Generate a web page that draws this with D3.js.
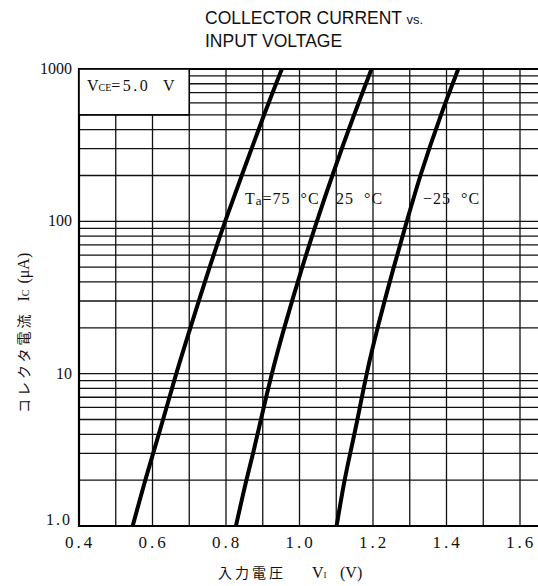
<!DOCTYPE html>
<html>
<head>
<meta charset="utf-8">
<script src="https://cdn.jsdelivr.net/npm/d3@7"></script>
<style>
  body { margin: 0; background: #fff; }
  svg { display: block; }
  .serif { font-family: "Liberation Serif", "DejaVu Serif", serif; }
</style>
</head>
<body>
<div id="chart"></div>
<script>
// collector current points (µA) and input voltage read for each curve (V)
const currents = [1, 2, 3, 5, 10, 20, 50, 100, 200, 500, 1000];
const volts75 = [0.546, 0.580, 0.602, 0.629, 0.664, 0.703, 0.755, 0.797, 0.843, 0.903, 0.952];
const volts25 = [0.827, 0.855, 0.874, 0.895, 0.924, 0.958, 1.007, 1.047, 1.089, 1.148, 1.196];
const voltsM25 = [1.101, 1.122, 1.138, 1.158, 1.182, 1.212, 1.256, 1.292, 1.328, 1.384, 1.432];

const xTicks = [0.4, 0.6, 0.8, 1.0, 1.2, 1.4, 1.6];
const xTickLabels = ["0.4", "0.6", "0.8", "1.0", "1.2", "1.4", "1.6"];
const yTicks = [1, 10, 100, 1000];
const yTickLabels = ["1.0", "10", "100", "1000"];
const curveLabels = ["Ta=75 °C", "25  °C", "−25  °C"];

const W = 538, H = 586;
const plotLeft = 79, plotTop = 69, plotBottom = 526;
const perTenth = 36.75;

const svg = d3.select("#chart").append("svg")
  .attr("width", W)
  .attr("height", H);

const x = d3.scaleLinear().domain([0.4, 1.7]).range([plotLeft, plotLeft + 13 * perTenth]);
const y = d3.scaleLog().domain([1, 1000]).range([plotBottom, plotTop]);

// title
const title = svg.append("g")
  .style("font-family", "'Liberation Sans Narrow', 'Liberation Sans', Arial, sans-serif")
  .style("font-size", "17.5px")
  .attr("fill", "#111");
const t1 = title.append("text").attr("x", 205).attr("y", 24);
t1.append("tspan").text("COLLECTOR CURRENT ");
t1.append("tspan").style("font-size", "13px").text("vs.");
title.append("text").attr("x", 205).attr("y", 47).text("INPUT VOLTAGE");

// grid
const grid = svg.append("g").attr("stroke", "#111").attr("stroke-width", 1.3);

const vLines = d3.range(5, 18).map(d => d / 10);
grid.selectAll(".vl").data(vLines).enter().append("line")
  .attr("x1", d => x(d)).attr("x2", d => x(d))
  .attr("y1", plotTop).attr("y2", plotBottom);

const hLines = [];
[1, 10, 100].forEach(dec => d3.range(1, 10).forEach(m => hLines.push(dec * m)));
hLines.push(1000);
grid.selectAll(".hl").data(hLines).enter().append("line")
  .attr("x1", plotLeft).attr("x2", W)
  .attr("y1", d => y(d)).attr("y2", d => y(d));

// frame
svg.append("path")
  .attr("d", `M${W},${plotTop}H${plotLeft}V${plotBottom}H${W}`)
  .attr("fill", "none").attr("stroke", "#000").attr("stroke-width", 2.2);

// condition box
svg.append("rect")
  .attr("x", plotLeft).attr("y", plotTop)
  .attr("width", x(0.7) - plotLeft).attr("height", y(500) - plotTop)
  .attr("fill", "#fff").attr("stroke", "#000").attr("stroke-width", 1.6);

const box = svg.append("text").attr("class", "serif")
  .attr("x", 87).attr("y", 91)
  .style("white-space", "pre")
  .style("font-size", "16px").attr("fill", "#111");
box.append("tspan").text("V");
box.append("tspan").style("font-size", "10px").text("CE");
box.append("tspan").style("letter-spacing", "2.5px").text("=5.0  V");

// curves
const line = d3.line()
  .x(d => x(d[0]))
  .y(d => y(d[1]))
  .curve(d3.curveBasis);

[volts75, volts25, voltsM25].forEach(vs => {
  svg.append("path")
    .datum(vs.map((v, i) => [v, currents[i]]))
    .attr("d", line)
    .attr("fill", "none")
    .attr("stroke", "#000")
    .attr("stroke-width", 4);
});

// curve labels
const labelPos = [[245, 204], [336, 204], [423, 204]];
curveLabels.forEach((t, i) => {
  const lt = svg.append("text").attr("class", "serif")
    .attr("x", labelPos[i][0]).attr("y", labelPos[i][1])
    .style("white-space", "pre")
    .style("letter-spacing", "1px")
    .style("font-size", "16px").attr("fill", "#111");
  if (i === 0) {
    lt.append("tspan").text("T");
    lt.append("tspan").style("font-size", "13px").attr("dy", 1).text("a");
    lt.append("tspan").attr("dy", -1).text("=75  °C");
  } else {
    lt.text(t);
  }
});

// axes labels
const xAxis = svg.append("g").attr("class", "serif")
  .style("font-size", "17px").attr("fill", "#111");
xAxis.selectAll("text").data(xTicks).enter().append("text")
  .attr("x", d => x(d) + 1).attr("y", 548)
  .attr("text-anchor", "middle")
  .style("letter-spacing", "3px")
  .text((d, i) => xTickLabels[i]);

const yAxis = svg.append("g").attr("class", "serif")
  .style("font-size", "16px").attr("fill", "#111");
yAxis.selectAll("text").data(yTicks).enter().append("text")
  .attr("x", 72)
  .attr("y", d => d === 1 ? y(d) - 1 : y(d) + 5)
  .attr("text-anchor", "end")
  .style("letter-spacing", d => d === 1 ? "2px" : "0px")
  .text((d, i) => yTickLabels[i]);

// x title
const xt = svg.append("text")
  .attr("x", 218).attr("y", 578)
  .style("font-family", "'Noto Sans CJK JP', sans-serif")
  .style("font-size", "14px").attr("fill", "#111");
xt.append("tspan").style("letter-spacing", "3px").text("入力電圧");
xt.append("tspan").attr("x", 312).style("font-family", "'Liberation Serif', serif").style("font-size", "16px").text("V");
xt.append("tspan").style("font-family", "'Liberation Serif', serif").style("font-size", "9px").text("I");
xt.append("tspan").attr("x", 340).style("font-family", "'Liberation Serif', serif").style("font-size", "16px").text("(V)");

// y title
const yt = svg.append("text")
  .attr("transform", "translate(29,413) rotate(-90)")
  .style("font-family", "'Noto Sans CJK JP', sans-serif")
  .style("font-size", "14px").attr("fill", "#111");
yt.append("tspan").style("letter-spacing", "3px").text("コレクタ電流");
yt.append("tspan").attr("dx", 10).style("font-family", "'Liberation Serif', serif").style("font-size", "16px").text("I");
yt.append("tspan").style("font-family", "'Liberation Serif', serif").style("font-size", "10px").text("C");
yt.append("tspan").attr("dx", 6).style("font-family", "'Liberation Serif', serif").style("font-size", "16px").text("(μA)");
</script>
</body>
</html>
